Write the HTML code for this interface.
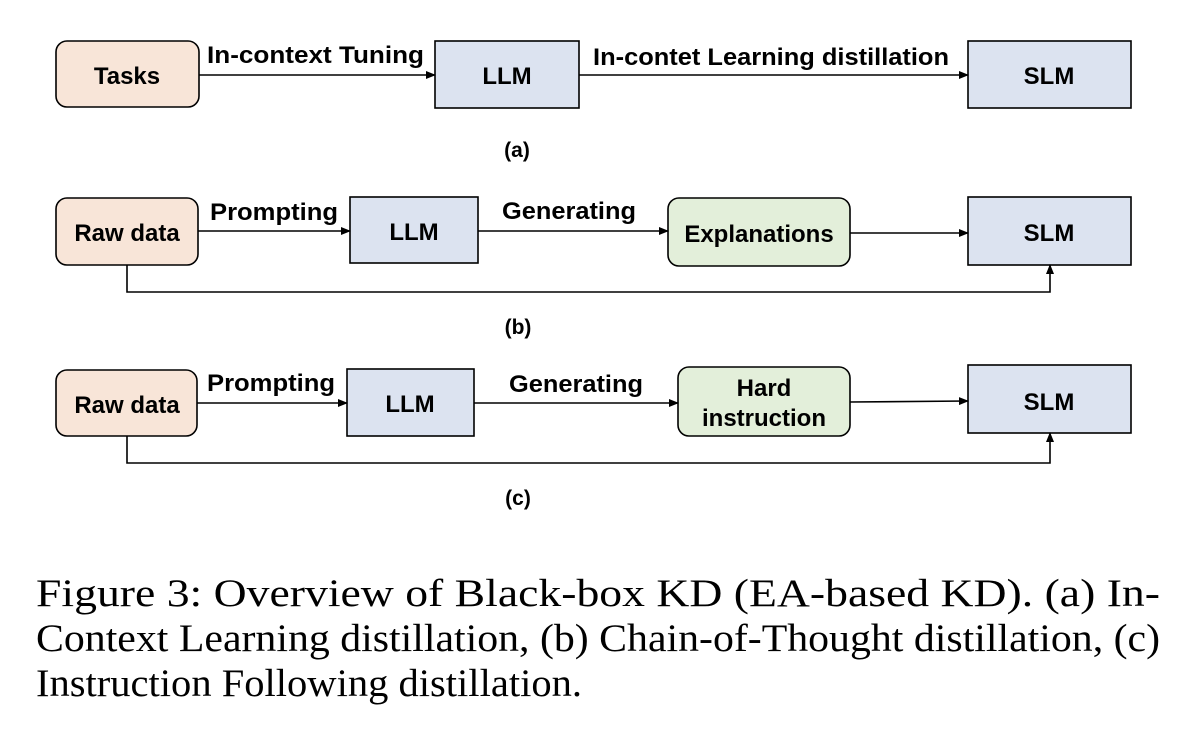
<!DOCTYPE html>
<html><head><meta charset="utf-8"><style>
html,body{margin:0;padding:0;background:#fff;width:1194px;height:738px;overflow:hidden}
svg text{font-family:"Liberation Sans",sans-serif;fill:#000;font-weight:bold}
svg text.cap{font-family:"Liberation Serif",serif;font-size:39px;font-weight:normal}
</style></head><body>
<svg width="1194" height="738" xmlns="http://www.w3.org/2000/svg">
<defs><marker id="ar" markerWidth="10" markerHeight="8" refX="9" refY="4" orient="auto" markerUnits="userSpaceOnUse"><path d="M0,0 L10,4 L0,8 z" fill="#000"/></marker></defs>
<g stroke="#000" stroke-width="1.6">
<rect x="56" y="41" width="143" height="66" rx="11" fill="#f8e5d8"/>
<rect x="435" y="41" width="144" height="67" fill="#dce3f0"/>
<rect x="968" y="41" width="163" height="67" fill="#dce3f0"/>
<rect x="56" y="198" width="142" height="67" rx="11" fill="#f8e5d8"/>
<rect x="350" y="197" width="128" height="66" fill="#dce3f0"/>
<rect x="668" y="198" width="182" height="68" rx="11" fill="#e3efda"/>
<rect x="968" y="197" width="163" height="68" fill="#dce3f0"/>
<rect x="56" y="370" width="141" height="66" rx="11" fill="#f8e5d8"/>
<rect x="347" y="369" width="127" height="67" fill="#dce3f0"/>
<rect x="678" y="367" width="172" height="69" rx="11" fill="#e3efda"/>
<rect x="968" y="365" width="163" height="68" fill="#dce3f0"/>
<g fill="none" marker-end="url(#ar)">
<line x1="199" y1="75" x2="435" y2="75"/>
<line x1="579" y1="75" x2="968" y2="75"/>
<line x1="198" y1="231" x2="350" y2="231"/>
<line x1="478" y1="231" x2="668" y2="231"/>
<line x1="850" y1="233" x2="968" y2="233"/>
<polyline points="127,265 127,292 1050,292 1050,265"/>
<line x1="197" y1="403" x2="347" y2="403"/>
<line x1="474" y1="403" x2="678" y2="403"/>
<line x1="850" y1="402" x2="968" y2="401"/>
<polyline points="127,436 127,463 1050,463 1050,433"/>
</g></g>
<g font-size="24">
<text x="127" y="84" text-anchor="middle">Tasks</text>
<text x="507" y="84" text-anchor="middle">LLM</text>
<text x="1049" y="84" text-anchor="middle">SLM</text>
<text x="207" y="63" textLength="217" lengthAdjust="spacingAndGlyphs">In-context Tuning</text>
<text x="593" y="65" textLength="356" lengthAdjust="spacingAndGlyphs">In-contet Learning distillation</text>
<text x="127" y="241" text-anchor="middle">Raw data</text>
<text x="414" y="240" text-anchor="middle">LLM</text>
<text x="759" y="242" text-anchor="middle">Explanations</text>
<text x="1049" y="241" text-anchor="middle">SLM</text>
<text x="210" y="220" textLength="128" lengthAdjust="spacingAndGlyphs">Prompting</text>
<text x="502" y="219" textLength="134" lengthAdjust="spacingAndGlyphs">Generating</text>
<text x="127" y="413" text-anchor="middle">Raw data</text>
<text x="410" y="412" text-anchor="middle">LLM</text>
<text x="764" y="396" text-anchor="middle">Hard</text>
<text x="764" y="426" text-anchor="middle">instruction</text>
<text x="1049" y="410" text-anchor="middle">SLM</text>
<text x="207" y="391" textLength="128" lengthAdjust="spacingAndGlyphs">Prompting</text>
<text x="509" y="392" textLength="134" lengthAdjust="spacingAndGlyphs">Generating</text>
<text x="517" y="157" text-anchor="middle" font-size="21">(a)</text>
<text x="518" y="334" text-anchor="middle" font-size="21">(b)</text>
<text x="518" y="505" text-anchor="middle" font-size="21">(c)</text>
</g>
<text class="cap" x="36" y="606" textLength="1124" lengthAdjust="spacingAndGlyphs">Figure 3:  Overview of Black-box KD (EA-based KD). (a) In-</text>
<text class="cap" x="36" y="651" textLength="1124" lengthAdjust="spacingAndGlyphs">Context Learning distillation, (b) Chain-of-Thought distillation, (c)</text>
<text class="cap" x="36" y="696" textLength="546" lengthAdjust="spacingAndGlyphs">Instruction Following distillation.</text>
</svg>
</body></html>
